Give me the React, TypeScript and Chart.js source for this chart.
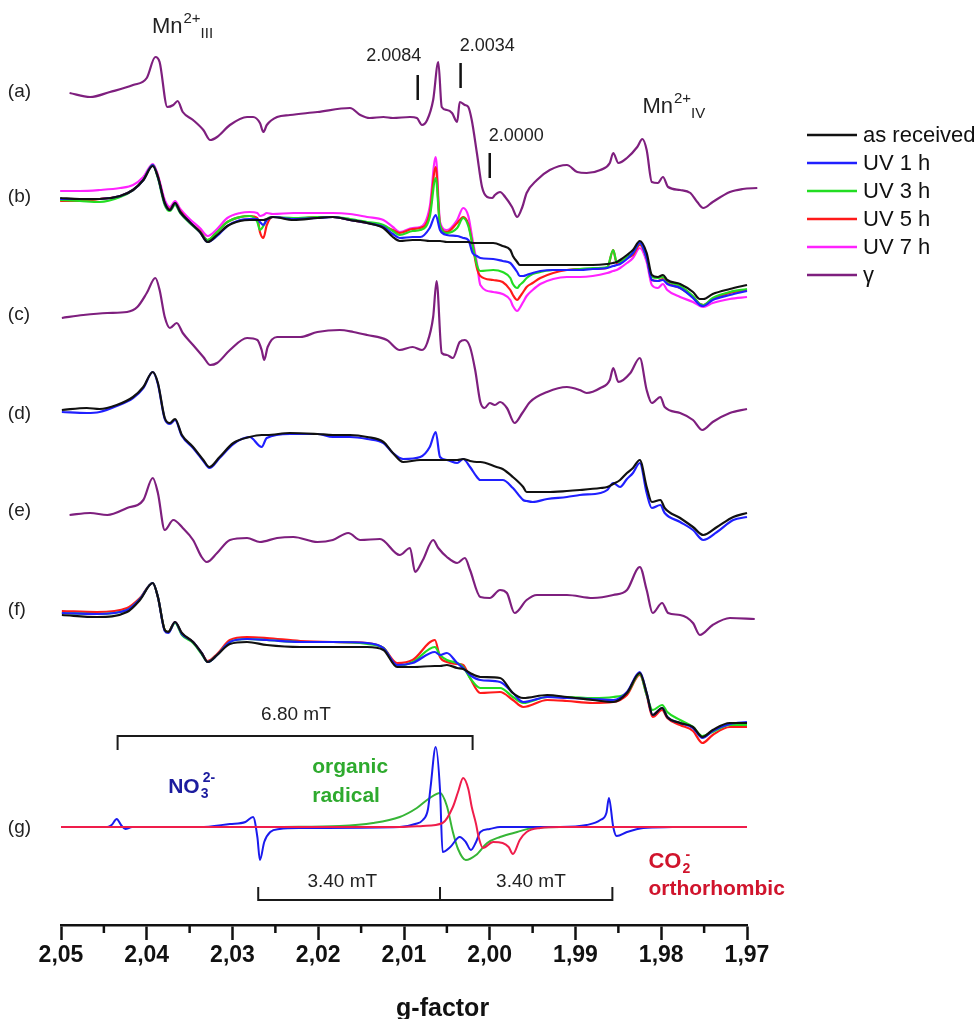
import React, { useEffect, useRef } from "react";
import { Chart, registerables } from "chart.js";

Chart.register(...registerables);

// ---------------- axis ----------------
const G_MIN = 1.97;
const G_MAX = 2.05;
const MAJOR_TICKS = [2.05, 2.04, 2.03, 2.02, 2.01, 2.0, 1.99, 1.98, 1.97];
const MINOR_TICKS = [2.045, 2.035, 2.025, 2.015, 2.005, 1.995, 1.985, 1.975];

// vertical stacking offsets of the panels (a)..(g), arbitrary units
const PANEL_NAMES = ["(a)", "(b)", "(c)", "(d)", "(e)", "(f)", "(g)"];
const PANEL_OFFSETS = [805, 725, 585, 495, 385, 285, 98];
const PANEL_LABEL_LEVELS = [833, 728, 610, 511, 414, 315, 97];

// ---------------- (a) gamma ----------------
const G_A = [2.0490,2.0466,2.0443,2.0416,2.0400,2.0390,2.0385,2.0376,2.0369,2.0364,2.0358,2.0346,2.0334,2.0326,2.0318,2.0303,2.0283,2.0276,2.0268,2.0264,2.0260,2.0248,2.0233,2.0201,2.0163,2.0151,2.0140,2.0124,2.0113,2.0093,2.0085,2.0079,2.0073,2.0066,2.0060,2.0056,2.0050,2.0044,2.0038,2.0035,2.0029,2.0025,2.0021,2.0015,2.0009,2.0003,1.9997,1.9994,1.9988,1.9982,1.9974,1.9968,1.9962,1.9957,1.9945,1.9930,1.9910,1.9898,1.9887,1.9871,1.9860,1.9856,1.9850,1.9840,1.9828,1.9822,1.9817,1.9811,1.9804,1.9798,1.9792,1.9778,1.9766,1.9758,1.9751,1.9740,1.9720,1.9705,1.9688];
const A_GAMMA = [27,23,28,35,42,63,58,13,15,19,8,0,-10,-20,-17,-5,3,3,-3,-12,-5,3,5,8,12,5,2,3,2,3,2,-5,0,20,58,13,10,7,-2,18,15,13,0,-33,-67,-77,-78,-75,-72,-77,-87,-97,-87,-73,-60,-50,-45,-52,-53,-50,-43,-33,-43,-38,-27,-19,-30,-62,-63,-57,-67,-70,-73,-82,-88,-82,-72,-69,-68];

// ---------------- (b) UV series ----------------
const G_B = [2.0501,2.0478,2.0455,2.0431,2.0416,2.0404,2.0393,2.0387,2.0379,2.0373,2.0367,2.0361,2.0350,2.0338,2.0329,2.0318,2.0306,2.0291,2.0280,2.0271,2.0268,2.0264,2.0260,2.0253,2.0229,2.0201,2.0183,2.0163,2.0143,2.0124,2.0113,2.0105,2.0090,2.0081,2.0070,2.0063,2.0058,2.0050,2.0038,2.0031,2.0025,2.0020,2.0015,2.0011,1.9996,1.9985,1.9976,1.9973,1.9968,1.9965,1.9961,1.9957,1.9950,1.9941,1.9926,1.9910,1.9895,1.9880,1.9863,1.9856,1.9852,1.9848,1.9840,1.9833,1.9825,1.9817,1.9811,1.9804,1.9798,1.9793,1.9778,1.9763,1.9755,1.9751,1.9740,1.9720,1.9700];
const B_ASREC = [2,1,1,4,10,20,34,23,-3,-10,-3,-12,-22,-32,-42,-35,-26,-21,-20,-20,-20,-20,-19,-17,-20,-18,-17,-20,-23,-28,-37,-41,-40,-40,-41,-41,-41,-42,-42,-42,-42,-43,-43,-43,-43,-46,-50,-56,-62,-65,-65,-65,-65,-65,-65,-65,-65,-65,-64,-63,-62,-60,-55,-50,-41,-53,-75,-77,-75,-80,-84,-92,-99,-99,-94,-89,-85];
const B_UV1 = [1,1,1,4,10,20,35,23,-3,-10,-3,-12,-22,-32,-42,-36,-26,-20,-19,-19,-22,-25,-20,-17,-19,-18,-17,-20,-23,-27,-34,-38,-37,-37,-28,-15,-30,-35,-36,-38,-40,-53,-56,-58,-59,-61,-63,-66,-72,-76,-76,-75,-73,-71,-70,-70,-70,-69,-68,-66,-65,-64,-59,-53,-43,-58,-80,-81,-80,-84,-88,-98,-105,-106,-100,-95,-91];
const B_UV3 = [0,-1,-2,3,10,20,35,22,-5,-11,-5,-13,-23,-32,-40,-32,-22,-17,-16,-22,-30,-26,-19,-17,-18,-17,-17,-19,-22,-25,-31,-35,-31,-30,-17,22,-25,-33,-28,-18,-26,-45,-65,-71,-70,-72,-78,-84,-88,-85,-82,-78,-74,-72,-70,-70,-69,-68,-67,-50,-62,-62,-57,-53,-43,-58,-77,-78,-77,-81,-86,-96,-104,-105,-98,-92,-89];
const B_UV5 = [-1,-1,1,4,10,20,35,24,-3,-9,-3,-11,-22,-31,-40,-32,-22,-17,-16,-18,-32,-38,-25,-17,-19,-17,-17,-20,-23,-26,-30,-33,-29,-28,-13,33,-25,-32,-23,-17,-24,-45,-68,-76,-80,-82,-90,-95,-100,-97,-92,-87,-83,-78,-73,-70,-69,-69,-68,-50,-63,-62,-58,-55,-45,-58,-80,-81,-79,-83,-88,-97,-104,-105,-99,-93,-90];
const B_UV7 = [9,9,10,12,15,23,36,25,0,-7,-1,-9,-19,-28,-36,-29,-18,-13,-12,-13,-16,-15,-13,-14,-13,-13,-13,-14,-17,-20,-27,-32,-28,-27,-7,43,-22,-30,-20,-8,-16,-40,-63,-85,-92,-94,-100,-106,-111,-108,-102,-96,-90,-84,-79,-77,-77,-76,-73,-71,-70,-68,-63,-58,-48,-62,-85,-88,-84,-90,-97,-102,-106,-107,-103,-99,-97];

// ---------------- (c) gamma ----------------
const G_C = [2.0499,2.0474,2.0446,2.0423,2.0411,2.0400,2.0390,2.0385,2.0379,2.0373,2.0365,2.0358,2.0346,2.0334,2.0326,2.0318,2.0303,2.0283,2.0271,2.0266,2.0263,2.0259,2.0248,2.0221,2.0201,2.0175,2.0159,2.0143,2.0120,2.0105,2.0090,2.0079,2.0073,2.0066,2.0062,2.0056,2.0050,2.0043,2.0035,2.0029,2.0023,2.0017,2.0011,2.0006,2.0000,1.9994,1.9988,1.9980,1.9971,1.9962,1.9953,1.9933,1.9910,1.9895,1.9887,1.9871,1.9860,1.9856,1.9850,1.9836,1.9825,1.9817,1.9811,1.9801,1.9796,1.9778,1.9763,1.9752,1.9740,1.9720,1.9700];
const C_GAMMA = [22,25,27,28,33,47,62,50,23,12,17,7,-5,-17,-25,-23,-10,2,0,-10,-20,-7,3,3,8,10,8,5,0,-10,-7,-10,-3,23,59,-13,-15,-18,-2,0,-7,-30,-62,-68,-63,-65,-62,-68,-83,-73,-62,-52,-47,-50,-53,-48,-40,-28,-42,-33,-18,-50,-63,-57,-67,-73,-80,-90,-82,-73,-69];

// ---------------- (d) ----------------
const G_D = [2.0499,2.0470,2.0455,2.0435,2.0416,2.0404,2.0393,2.0387,2.0379,2.0373,2.0367,2.0359,2.0346,2.0334,2.0327,2.0315,2.0299,2.0280,2.0266,2.0260,2.0233,2.0201,2.0183,2.0163,2.0143,2.0124,2.0113,2.0101,2.0081,2.0070,2.0063,2.0058,2.0050,2.0038,2.0031,2.0023,2.0015,2.0011,1.9992,1.9985,1.9973,1.9961,1.9957,1.9950,1.9933,1.9910,1.9895,1.9871,1.9863,1.9856,1.9848,1.9840,1.9833,1.9825,1.9817,1.9811,1.9801,1.9796,1.9778,1.9763,1.9751,1.9735,1.9716,1.9700];
const D_ASREC = [20,22,21,25,33,43,58,47,12,7,11,-5,-17,-30,-37,-27,-13,-7,-5,-5,-3,-4,-5,-5,-7,-12,-23,-32,-30,-30,-30,-30,-30,-30,-29,-31,-32,-32,-37,-39,-47,-57,-62,-62,-62,-61,-60,-58,-57,-54,-50,-43,-38,-30,-57,-72,-70,-78,-88,-97,-105,-97,-87,-83];
const D_UV1 = [18,17,18,24,32,42,58,46,11,6,10,-6,-18,-31,-38,-28,-14,-7,-17,-8,-4,-4,-7,-7,-9,-13,-23,-29,-27,-17,-2,-27,-30,-33,-29,-37,-47,-50,-50,-50,-58,-70,-71,-72,-69,-67,-65,-63,-60,-53,-57,-49,-43,-33,-63,-78,-75,-83,-92,-100,-110,-102,-90,-87];

// ---------------- (e) gamma ----------------
const G_E = [2.0490,2.0466,2.0446,2.0423,2.0404,2.0393,2.0387,2.0379,2.0369,2.0358,2.0346,2.0336,2.0330,2.0318,2.0303,2.0283,2.0268,2.0248,2.0229,2.0201,2.0183,2.0165,2.0151,2.0128,2.0105,2.0093,2.0087,2.0078,2.0066,2.0060,2.0050,2.0038,2.0029,2.0023,2.0011,2.0000,1.9988,1.9980,1.9971,1.9957,1.9945,1.9910,1.9880,1.9856,1.9840,1.9825,1.9817,1.9810,1.9799,1.9792,1.9778,1.9763,1.9755,1.9740,1.9720,1.9691];
const E_GAMMA = [25,27,25,32,40,62,47,10,20,12,0,-17,-22,-13,0,2,-2,2,3,-2,0,7,0,1,-15,-8,-32,-20,0,-8,-17,-23,-18,-30,-57,-58,-50,-53,-73,-60,-55,-55,-58,-55,-50,-27,-50,-73,-63,-73,-75,-83,-95,-85,-78,-79];

// ---------------- (f) ----------------
const G_F = [2.0499,2.0458,2.0423,2.0408,2.0393,2.0387,2.0379,2.0375,2.0367,2.0359,2.0346,2.0336,2.0329,2.0318,2.0303,2.0283,2.0260,2.0221,2.0183,2.0143,2.0124,2.0108,2.0090,2.0064,2.0058,2.0050,2.0038,2.0031,2.0023,2.0011,1.9988,1.9973,1.9961,1.9933,1.9910,1.9880,1.9856,1.9840,1.9825,1.9817,1.9810,1.9799,1.9793,1.9778,1.9763,1.9752,1.9740,1.9720,1.9700];
const F_ASREC = [25,23,28,40,57,43,10,8,18,7,-2,-13,-22,-15,-4,-2,-5,-7,-7,-7,-10,-27,-27,-26,-26,-25,-28,-29,-33,-37,-38,-53,-58,-55,-57,-60,-62,-53,-33,-53,-75,-68,-77,-83,-87,-97,-90,-83,-83];
const F_UV1 = [27,26,30,41,57,43,9,7,18,6,-2,-13,-22,-15,-2,1,0,-2,-2,-3,-8,-25,-23,-12,-15,-13,-23,-28,-35,-40,-42,-53,-62,-57,-58,-59,-60,-52,-32,-53,-75,-68,-77,-83,-88,-98,-91,-84,-82];
const F_UV3 = [27,26,30,41,57,43,10,8,17,5,-3,-14,-22,-15,-2,1,0,-2,-2,-4,-8,-26,-22,-7,-15,-20,-23,-27,-38,-48,-48,-57,-63,-57,-57,-58,-57,-53,-34,-55,-70,-65,-72,-80,-87,-96,-92,-85,-85];
const F_UV5 = [29,28,32,42,57,43,10,8,18,6,-2,-13,-21,-14,0,3,2,-1,-2,-3,-8,-23,-20,0,-17,-22,-24,-25,-38,-53,-52,-60,-67,-60,-61,-63,-62,-55,-35,-55,-77,-70,-78,-85,-91,-103,-95,-87,-87];

// ---------------- (g) simulations ----------------
const G_NO3 = [2.0466,2.0446,2.0441,2.0435,2.0430,2.0425,2.0417,2.0338,2.0303,2.0285,2.0276,2.0271,2.0268,2.0263,2.0256,2.0245,2.0221,2.0105,2.0087,2.0078,2.0072,2.0069,2.0063,2.0058,2.0055,2.0046,2.0035,2.0028,2.0022,2.0016,2.0011,2.0000,1.9988,1.9918,1.9887,1.9871,1.9864,1.9861,1.9856,1.9852,1.9840,1.9821,1.9787];
const SIM_NO3 = [0,0,2,8,2,-2,0,0,3,5,10,-10,-33,-15,-5,-2,-1,0,3,7,18,40,80,37,-25,-20,-10,-15,-23,-15,-5,-2,0,0,2,7,14,29,0,-9,-5,-1,0];
const G_ORG = [2.0245,2.0175,2.0136,2.0105,2.0085,2.0070,2.0058,2.0050,2.0043,2.0037,2.0028,2.0016,2.0003,1.9988,1.9968,1.9950,1.9918,1.9871];
const SIM_ORG = [0,1,4,10,19,29,34,21,-5,-22,-33,-28,-16,-10,-5,-1,0,0];
const G_CO2 = [2.0500,2.0105,2.0078,2.0055,2.0043,2.0037,2.0031,2.0025,2.0021,2.0016,2.0013,2.0008,1.9996,1.9985,1.9978,1.9973,1.9965,1.9957,1.9941,1.9918,1.9700];
const SIM_CO2 = [0,0,1,4,20,35,49,38,20,3,-10,-21,-15,-16,-20,-27,-13,-5,-1,0,0];

// ---------------- annotations ----------------
const MARKER_G = [2.0084, 2.0034, 2.0];
const MARKER_TEXT = ["2.0084", "2.0034", "2.0000"];
const MARKER_BAR_TOP = [850, 862, 772];
const MARKER_BAR_BOTTOM = [825, 837, 747];
const MARKER_TEXT_G = [2.0112, 2.0003, 1.9969];
const MARKER_TEXT_Y = [869, 879, 789];

const BRACKET_680_G = [2.0434, 2.0020];
const BRACKET_340_G = [2.0270, 2.0058, 1.9857];

const LEGEND_LABELS = ["as received", "UV 1 h", "UV 3 h", "UV 5 h", "UV 7 h", "\u03b3"];

const C_BLACK = "#111111";
const C_BLUE = "#2020ff";
const C_GREEN = "#22dd22";
const C_RED = "#ff1a1a";
const C_MAGENTA = "#ff22ff";
const C_PURPLE = "#7e1f7e";
const LEGEND_COLORS = [C_BLACK, C_BLUE, C_GREEN, C_RED, C_MAGENTA, C_PURPLE];

const SANS = '"Liberation Sans", Arial, sans-serif';

function series(gs: number[], vs: number[], off: number) {
  return gs.map((g, i) => ({ x: g, y: vs[i] + off }));
}

function line(data: any[], color: string, width = 2.2) {
  return {
    data,
    borderColor: color,
    backgroundColor: color,
    borderWidth: width,
    pointRadius: 0,
    fill: false,
    cubicInterpolationMode: "monotone" as const,
    clip: false as any,
  };
}

const annotatePlugin = {
  id: "annotate",
  afterDraw(chart: any) {
    const { ctx, chartArea } = chart;
    const xs = chart.scales.x;
    const ys = chart.scales.y;
    const X = (g: number) => xs.getPixelForValue(g);
    const Y = (v: number) => ys.getPixelForValue(v);
    ctx.save();

    // minor ticks
    ctx.strokeStyle = C_BLACK;
    ctx.lineWidth = 2.5;
    MINOR_TICKS.forEach((g) => {
      ctx.beginPath();
      ctx.moveTo(X(g), chartArea.bottom);
      ctx.lineTo(X(g), chartArea.bottom + 8);
      ctx.stroke();
    });

    // axis title
    ctx.fillStyle = C_BLACK;
    ctx.font = `bold 25px ${SANS}`;
    ctx.textAlign = "center";
    ctx.textBaseline = "alphabetic";
    ctx.fillText("g-factor", X(2.0055), chartArea.bottom + 91);

    // panel labels
    ctx.font = `19px ${SANS}`;
    ctx.fillStyle = "#222";
    ctx.textAlign = "left";
    ctx.textBaseline = "middle";
    PANEL_NAMES.forEach((n, i) => ctx.fillText(n, X(2.0562), Y(PANEL_LABEL_LEVELS[i])));

    // Mn labels
    const mn = (g: number, v: number, sub: string) => {
      let x = X(g);
      const y = Y(v);
      ctx.textAlign = "left";
      ctx.textBaseline = "alphabetic";
      ctx.fillStyle = "#222";
      ctx.font = `22px ${SANS}`;
      ctx.fillText("Mn", x, y);
      x += ctx.measureText("Mn").width + 1;
      ctx.font = `15px ${SANS}`;
      ctx.fillText("2+", x, y - 10);
      x += ctx.measureText("2+").width;
      ctx.fillText(sub, x, y + 5);
    };
    mn(2.0394, 892, "III");
    mn(1.9822, 812, "IV");

    // g markers
    ctx.strokeStyle = "#111";
    ctx.lineWidth = 2.5;
    MARKER_G.forEach((g, i) => {
      ctx.beginPath();
      ctx.moveTo(X(g), Y(MARKER_BAR_TOP[i]));
      ctx.lineTo(X(g), Y(MARKER_BAR_BOTTOM[i]));
      ctx.stroke();
    });
    ctx.font = `18px ${SANS}`;
    ctx.fillStyle = "#222";
    ctx.textAlign = "center";
    ctx.textBaseline = "middle";
    MARKER_TEXT.forEach((t, i) => ctx.fillText(t, X(MARKER_TEXT_G[i]), Y(MARKER_TEXT_Y[i])));

    // brackets
    ctx.strokeStyle = "#1a1a1a";
    ctx.lineWidth = 2;
    ctx.beginPath();
    ctx.moveTo(X(BRACKET_680_G[0]), Y(175));
    ctx.lineTo(X(BRACKET_680_G[0]), Y(189));
    ctx.lineTo(X(BRACKET_680_G[1]), Y(189));
    ctx.lineTo(X(BRACKET_680_G[1]), Y(175));
    ctx.stroke();
    ctx.beginPath();
    ctx.moveTo(X(BRACKET_340_G[0]), Y(38));
    ctx.lineTo(X(BRACKET_340_G[0]), Y(25));
    ctx.lineTo(X(BRACKET_340_G[2]), Y(25));
    ctx.lineTo(X(BRACKET_340_G[2]), Y(38));
    ctx.moveTo(X(BRACKET_340_G[1]), Y(25));
    ctx.lineTo(X(BRACKET_340_G[1]), Y(38));
    ctx.stroke();
    ctx.font = `19px ${SANS}`;
    ctx.fillStyle = "#222";
    ctx.textAlign = "center";
    ctx.textBaseline = "middle";
    ctx.fillText("6.80 mT", X(2.0226), Y(210));
    ctx.fillText("3.40 mT", X(2.0172), Y(43));
    ctx.fillText("3.40 mT", X(1.9952), Y(43));

    // species labels
    ctx.textAlign = "left";
    ctx.textBaseline = "alphabetic";
    // NO3 2-
    {
      let x = X(2.0375);
      const y = Y(132);
      ctx.fillStyle = "#1c1c9e";
      ctx.font = `bold 21px ${SANS}`;
      ctx.fillText("NO", x, y);
      x += ctx.measureText("NO").width + 1;
      ctx.font = `bold 14px ${SANS}`;
      ctx.fillText("3", x, y + 5);
      ctx.fillText("2-", x + 2, y - 11);
    }
    // organic radical
    ctx.fillStyle = "#2eaa2e";
    ctx.font = `bold 21px ${SANS}`;
    ctx.fillText("organic", X(2.0207), Y(152));
    ctx.fillText("radical", X(2.0207), Y(123));
    // CO2- orthorhombic
    {
      let x = X(1.9815);
      const y = Y(57);
      ctx.fillStyle = "#d0142c";
      ctx.font = `bold 22px ${SANS}`;
      ctx.fillText("CO", x, y);
      x += ctx.measureText("CO").width + 1;
      ctx.font = `bold 14px ${SANS}`;
      ctx.fillText("2", x, y + 5);
      ctx.fillText("-", x + 3, y - 9);
      ctx.font = `bold 21px ${SANS}`;
      ctx.fillText("orthorhombic", X(1.9815), Y(30));
    }

    // legend
    const lx = chartArea.right + 60;
    ctx.font = `22px ${SANS}`;
    ctx.textBaseline = "middle";
    ctx.textAlign = "left";
    LEGEND_LABELS.forEach((lab, i) => {
      const y = 135 + 28 * i;
      ctx.strokeStyle = LEGEND_COLORS[i];
      ctx.lineWidth = 2.5;
      ctx.beginPath();
      ctx.moveTo(lx, y);
      ctx.lineTo(lx + 50, y);
      ctx.stroke();
      ctx.fillStyle = "#111";
      ctx.fillText(lab, lx + 56, y + 1);
    });

    ctx.restore();
  },
};

export default function App() {
  const ref = useRef<HTMLCanvasElement>(null);
  useEffect(() => {
    const [oa, ob, oc, od, oe, of, og] = PANEL_OFFSETS;
    const datasets = [
      // (g) simulations
      line(series(G_CO2, SIM_CO2, og), "#ef1d4b", 2),
      line(series(G_NO3, SIM_NO3, og), "#1a1aee", 2),
      line(series(G_ORG, SIM_ORG, og), "#36b536", 2),
      // (f)
      line(series(G_F, F_ASREC, of), C_BLACK),
      line(series(G_F, F_UV1, of), C_BLUE),
      line(series(G_F, F_UV3, of), C_GREEN),
      line(series(G_F, F_UV5, of), C_RED),
      // (e)
      line(series(G_E, E_GAMMA, oe), C_PURPLE),
      // (d)
      line(series(G_D, D_ASREC, od), C_BLACK),
      line(series(G_D, D_UV1, od), C_BLUE),
      // (c)
      line(series(G_C, C_GAMMA, oc), C_PURPLE),
      // (b)
      line(series(G_B, B_ASREC, ob), C_BLACK),
      line(series(G_B, B_UV1, ob), C_BLUE),
      line(series(G_B, B_UV3, ob), C_GREEN),
      line(series(G_B, B_UV5, ob), C_RED),
      line(series(G_B, B_UV7, ob), C_MAGENTA),
      // (a)
      line(series(G_A, A_GAMMA, oa), C_PURPLE),
    ];

    const chart = new Chart(ref.current as HTMLCanvasElement, {
      type: "line",
      data: { datasets },
      options: {
        responsive: false,
        animation: false,
        devicePixelRatio: 1,
        events: [],
        parsing: true,
        layout: { padding: { left: 61, right: 231, top: 0, bottom: 0 } },
        plugins: { legend: { display: false }, tooltip: { enabled: false } },
        scales: {
          x: {
            type: "linear",
            reverse: true,
            min: G_MIN,
            max: G_MAX,
            afterBuildTicks: (s: any) => {
              s.ticks = MAJOR_TICKS.map((v) => ({ value: v }));
            },
            afterFit: (s: any) => {
              s.height = 94;
            },
            ticks: {
              autoSkip: false,
              maxRotation: 0,
              padding: 2,
              color: "#111",
              font: { family: SANS, size: 23, weight: "bold" },
              callback: (v: any) => Number(v).toFixed(2).replace(".", ","),
            },
            grid: {
              display: true,
              drawOnChartArea: false,
              drawTicks: true,
              tickLength: 15,
              tickWidth: 2.5,
              tickColor: C_BLACK,
            },
            border: { display: true, color: C_BLACK, width: 2.5 },
          },
          y: { display: false, min: 0, max: 925 },
        },
      } as any,
      plugins: [annotatePlugin],
    });
    return () => chart.destroy();
  }, []);
  return (
    <div style={{ position: "absolute", left: 0, top: 0, width: 978, height: 1019, background: "#fff" }}>
      <canvas ref={ref} width={978} height={1019} style={{ display: "block", width: 978, height: 1019 }} />
    </div>
  );
}
